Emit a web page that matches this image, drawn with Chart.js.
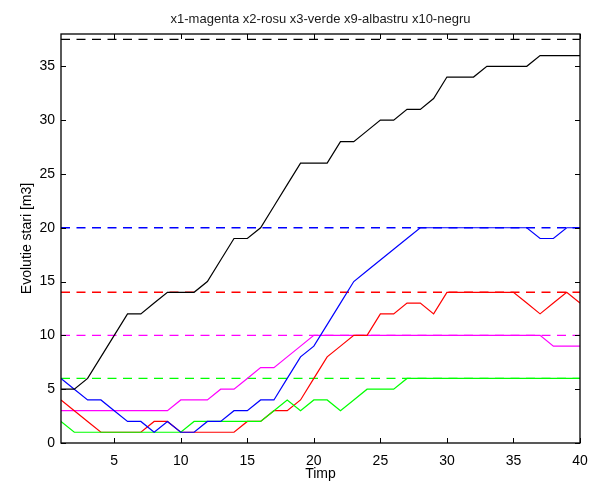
<!DOCTYPE html>
<html>
<head>
<meta charset="utf-8">
<script src="https://cdn.jsdelivr.net/npm/chart.js@4/dist/chart.umd.min.js"></script>
<style>
  html, body { margin: 0; padding: 0; background: #ffffff; }
  #wrap { width: 590px; height: 483px; position: relative; }
</style>
</head>
<body>
<div id="wrap"><canvas id="c"></canvas></div>
<script>
// Time steps
const timp = [1,2,3,4,5,6,7,8,9,10,11,12,13,14,15,16,17,18,19,20,
              21,22,23,24,25,26,27,28,29,30,31,32,33,34,35,36,37,38,39,40];

// State evolution per tank [m3]
const x1 = [3,3,3,3,3,3,3,3,3,4,4,4,5,5,6,7,7,8,9,10,
            10,10,10,10,10,10,10,10,10,10,10,10,10,10,10,10,10,9,9,9];
const x2 = [4,3,2,1,1,1,1,2,2,1,1,1,1,1,2,2,3,3,4,6,
            8,9,10,10,12,12,13,13,12,14,14,14,14,14,14,13,12,13,14,13];
const x3 = [2,1,1,1,1,1,1,1,1,1,2,2,2,2,2,2,3,4,3,4,
            4,3,4,5,5,5,6,6,6,6,6,6,6,6,6,6,6,6,6,6];
const x9 = [6,5,4,4,3,2,2,1,2,1,1,2,2,3,3,4,4,6,8,9,
            11,13,15,16,17,18,19,20,20,20,20,20,20,20,20,20,19,19,20,20];
const x10 = [5,5,6,8,10,12,12,13,14,14,14,15,17,19,19,20,22,24,26,26,
             26,28,28,29,30,30,31,31,32,34,34,34,35,35,35,35,36,36,36,36];

// Upper limits (dashed) for each tank
const limitNames = ['x1', 'x2', 'x3', 'x9', 'x10'];
const limits = [10, 14, 6, 20, 37.5];

const xTicks = [5, 10, 15, 20, 25, 30, 35, 40];
const yTicks = [0, 5, 10, 15, 20, 25, 30, 35];

const colors = { x1: '#ff00ff', x2: '#ff0000', x3: '#00ff00', x9: '#0000ff', x10: '#000000' };

const FONT = "'Liberation Sans', Arial, Helvetica, sans-serif";

function series(name, vals, order) {
  return {
    label: name,
    data: vals.map((v, i) => ({ x: timp[i], y: v })),
    borderColor: colors[name],
    backgroundColor: colors[name],
    borderWidth: 1.2,
    pointRadius: 0,
    tension: 0,
    fill: false,
    order: order
  };
}

function limitLine(name, value, order) {
  return {
    label: name + ' max',
    data: [{ x: timp[0], y: value }, { x: timp[timp.length - 1], y: value }],
    borderColor: colors[name],
    borderWidth: 1.4,
    borderDash: [9, 6.5],
    pointRadius: 0,
    tension: 0,
    fill: false,
    order: order
  };
}

const datasets = [
  series('x10', x10, 0),
  series('x9', x9, 1),
  series('x3', x3, 2),
  series('x2', x2, 3),
  series('x1', x1, 4)
];
limitNames.forEach((n, i) => datasets.push(limitLine(n, limits[i], 10 + i)));

// Axes box with inward tick marks on all four sides
const boxPlugin = {
  id: 'boxTicks',
  afterDatasetsDraw(chart) {
    const { ctx, chartArea: a, scales } = chart;
    const len = 5;
    ctx.save();
    ctx.strokeStyle = '#000000';
    ctx.lineWidth = 1;
    ctx.beginPath();
    xTicks.forEach(v => {
      const px = Math.round(scales.x.getPixelForValue(v)) + 0.5;
      ctx.moveTo(px, a.bottom); ctx.lineTo(px, a.bottom - len);
      ctx.moveTo(px, a.top); ctx.lineTo(px, a.top + len);
    });
    yTicks.forEach(v => {
      const py = Math.round(scales.y.getPixelForValue(v)) + 0.5;
      ctx.moveTo(a.left, py); ctx.lineTo(a.left + len, py);
      ctx.moveTo(a.right, py); ctx.lineTo(a.right - len, py);
    });
    ctx.stroke();
    ctx.lineWidth = 1.3;
    ctx.strokeRect(a.left, a.top, a.right - a.left, a.bottom - a.top);
    ctx.restore();
  }
};

new Chart(document.getElementById('c'), {
  type: 'line',
  data: { datasets },
  options: {
    responsive: true,
    maintainAspectRatio: false,
    animation: false,
    events: [],
    layout: { padding: { left: 0, right: 10, top: 0, bottom: 0 } },
    plugins: {
      legend: { display: false },
      tooltip: { enabled: false },
      title: {
        display: true,
        fullSize: false,
        text: 'x1-magenta x2-rosu x3-verde x9-albastru x10-negru',
        color: '#1a1a1a',
        font: { family: FONT, size: 13, weight: 'normal', lineHeight: 1.2 },
        padding: { top: 11.2, bottom: 7.2 }
      }
    },
    scales: {
      x: {
        type: 'linear',
        min: 1,
        max: 40,
        afterBuildTicks: s => { s.ticks = xTicks.map(v => ({ value: v })); },
        afterFit: s => { s.height = 40; s.paddingLeft = 0; s.paddingRight = 0; },
        grid: { display: false, drawTicks: false },
        border: { display: false },
        ticks: { color: '#000000', padding: 10, maxRotation: 0, font: { family: FONT, size: 14 } },
        title: {
          display: true,
          text: 'Timp',
          color: '#000000',
          font: { family: FONT, size: 14, lineHeight: 1.2 },
          padding: { top: 0, bottom: 0 }
        }
      },
      y: {
        type: 'linear',
        min: 0,
        max: 38,
        afterBuildTicks: s => { s.ticks = yTicks.map(v => ({ value: v })); },
        afterFit: s => { s.width = 61; s.paddingTop = 0; s.paddingBottom = 0; },
        grid: { display: false, drawTicks: false },
        border: { display: false },
        ticks: { color: '#000000', padding: 6, font: { family: FONT, size: 14 } },
        title: {
          display: true,
          text: 'Evolutie stari [m3]',
          color: '#000000',
          font: { family: FONT, size: 14, lineHeight: 1.2 },
          padding: { top: 18.6, bottom: 0 }
        }
      }
    }
  },
  plugins: [boxPlugin]
});
</script>
</body>
</html>
